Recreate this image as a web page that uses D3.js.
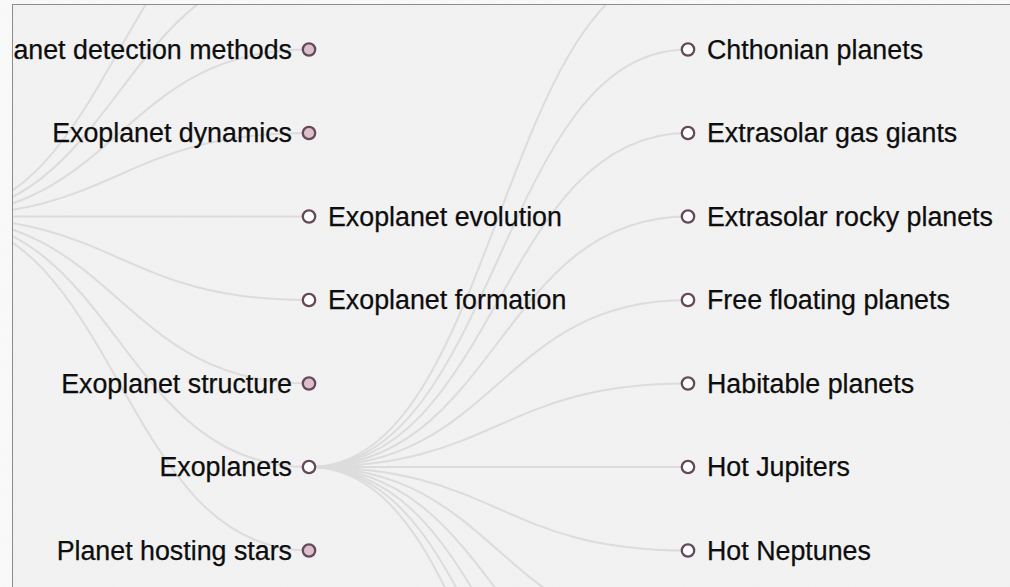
<!DOCTYPE html>
<html>
<head>
<meta charset="utf-8">
<style>
body { margin: 0; background: #fafafa; overflow: hidden; }
.frame { fill: #f3f3f3; }
.border { stroke: #8c8c8c; stroke-width: 1px; }
.link { fill: none; stroke: #dcdcdc; stroke-width: 2px; }
.node circle { stroke: #65495a; stroke-width: 2.3px; }
.node text { font: 26.8px "Liberation Sans", Arial, sans-serif; fill: #0d0d0d; stroke: #0d0d0d; stroke-width: 0.25px; }
</style>
<script src="https://cdn.jsdelivr.net/npm/d3@7"></script>
</head>
<body>
<script>
'use strict';

// tree content
var rootName = "Exoplanetology";
var rootChildren = ["Discoveries of exoplanets", "Exoplanet catalogues", "Exoplanet detection methods",
    "Exoplanet dynamics", "Exoplanet evolution", "Exoplanet formation", "Exoplanet structure",
    "Exoplanets", "Planet hosting stars"];
var exoplanetChildren = ["Carbon planets", "Chthonian planets", "Extrasolar gas giants",
    "Extrasolar rocky planets", "Free floating planets", "Habitable planets", "Hot Jupiters",
    "Hot Neptunes", "Iron planets", "Mini-Neptunes", "Ocean planets", "Pulsar planets", "Super-Earths"];
var expandedNode = "Exoplanets";
// nodes that still hold hidden (collapsed) children
var collapsedNodes = ["Discoveries of exoplanets", "Exoplanet catalogues", "Exoplanet detection methods",
    "Exoplanet dynamics", "Exoplanet structure", "Planet hosting stars"];

var width = 1010, height = 587;
var frame = {left: 12, top: 4};
var rowStep = 83.5, depthStep = 379;
var origin = {x: -70, y: 216.5}; // where the root sits in the current pan

var data = {
    name: rootName,
    children: rootChildren.map(function(n) {
        if (n == expandedNode) {
            return {name: n, children: exoplanetChildren.map(function(c) { return {name: c}; })};
        }
        return {name: n, collapsed: collapsedNodes.indexOf(n) >= 0};
    })
};

var root = d3.hierarchy(data);
var tree = d3.tree().nodeSize([rowStep, depthStep]);
tree(root);

var svg = d3.select("body")
    .append("svg")
    .attr("width", width)
    .attr("height", height);

var defs = svg.append("defs");
defs.append("clipPath")
    .attr("id", "clip")
    .append("rect")
    .attr("x", frame.left)
    .attr("y", frame.top)
    .attr("width", width - frame.left)
    .attr("height", height - frame.top);

// faint grain on the canvas
var grain = defs.append("filter").attr("id", "grain");
grain.append("feTurbulence")
    .attr("type", "fractalNoise")
    .attr("baseFrequency", 0.9)
    .attr("numOctaves", 2)
    .attr("seed", 3);
grain.append("feColorMatrix")
    .attr("type", "matrix")
    .attr("values", "0 0 0 0 0.55  0 0 0 0 0.55  0 0 0 0 0.55  0 0 0 0.06 0");

svg.append("rect")
    .attr("class", "frame")
    .attr("x", frame.left)
    .attr("y", frame.top)
    .attr("width", width - frame.left)
    .attr("height", height - frame.top);

svg.append("rect")
    .attr("x", frame.left)
    .attr("y", frame.top)
    .attr("width", width - frame.left)
    .attr("height", height - frame.top)
    .attr("filter", "url(#grain)");

var g = svg.append("g")
    .attr("clip-path", "url(#clip)")
    .append("g")
    .attr("transform", "translate(" + origin.x + "," + origin.y + ")");

var diagonal = d3.linkHorizontal()
    .x(function(d) { return d.y; })
    .y(function(d) { return d.x; });

g.selectAll("path.link")
    .data(root.links())
    .enter()
    .append("path")
    .attr("class", "link")
    .attr("d", diagonal);

var node = g.selectAll("g.node")
    .data(root.descendants())
    .enter()
    .append("g")
    .attr("class", "node")
    .attr("transform", function(d) { return "translate(" + d.y + "," + d.x + ")"; });

node.append("circle")
    .attr("r", 6.2)
    .style("fill", function(d) { return d.data.collapsed ? "#dbc0cc" : "#fff"; });

// labels only for nodes that sit inside the visible pan
node.filter(function(d) {
        var sx = origin.x + d.y, sy = origin.y + d.x;
        return sx >= 0 && sx <= width && sy >= 0 && sy <= height;
    })
    .append("text")
    .attr("x", function(d) { return d.children || d.data.collapsed ? -17 : 19; })
    .attr("dy", ".35em")
    .attr("text-anchor", function(d) { return d.children || d.data.collapsed ? "end" : "start"; })
    .text(function(d) { return d.data.name; });

// frame edges
svg.append("line").attr("class", "border")
    .attr("x1", frame.left + 0.5).attr("y1", frame.top).attr("x2", frame.left + 0.5).attr("y2", height);
svg.append("line").attr("class", "border")
    .attr("x1", frame.left).attr("y1", frame.top + 0.5).attr("x2", width).attr("y2", frame.top + 0.5);
</script>
</body>
</html>
